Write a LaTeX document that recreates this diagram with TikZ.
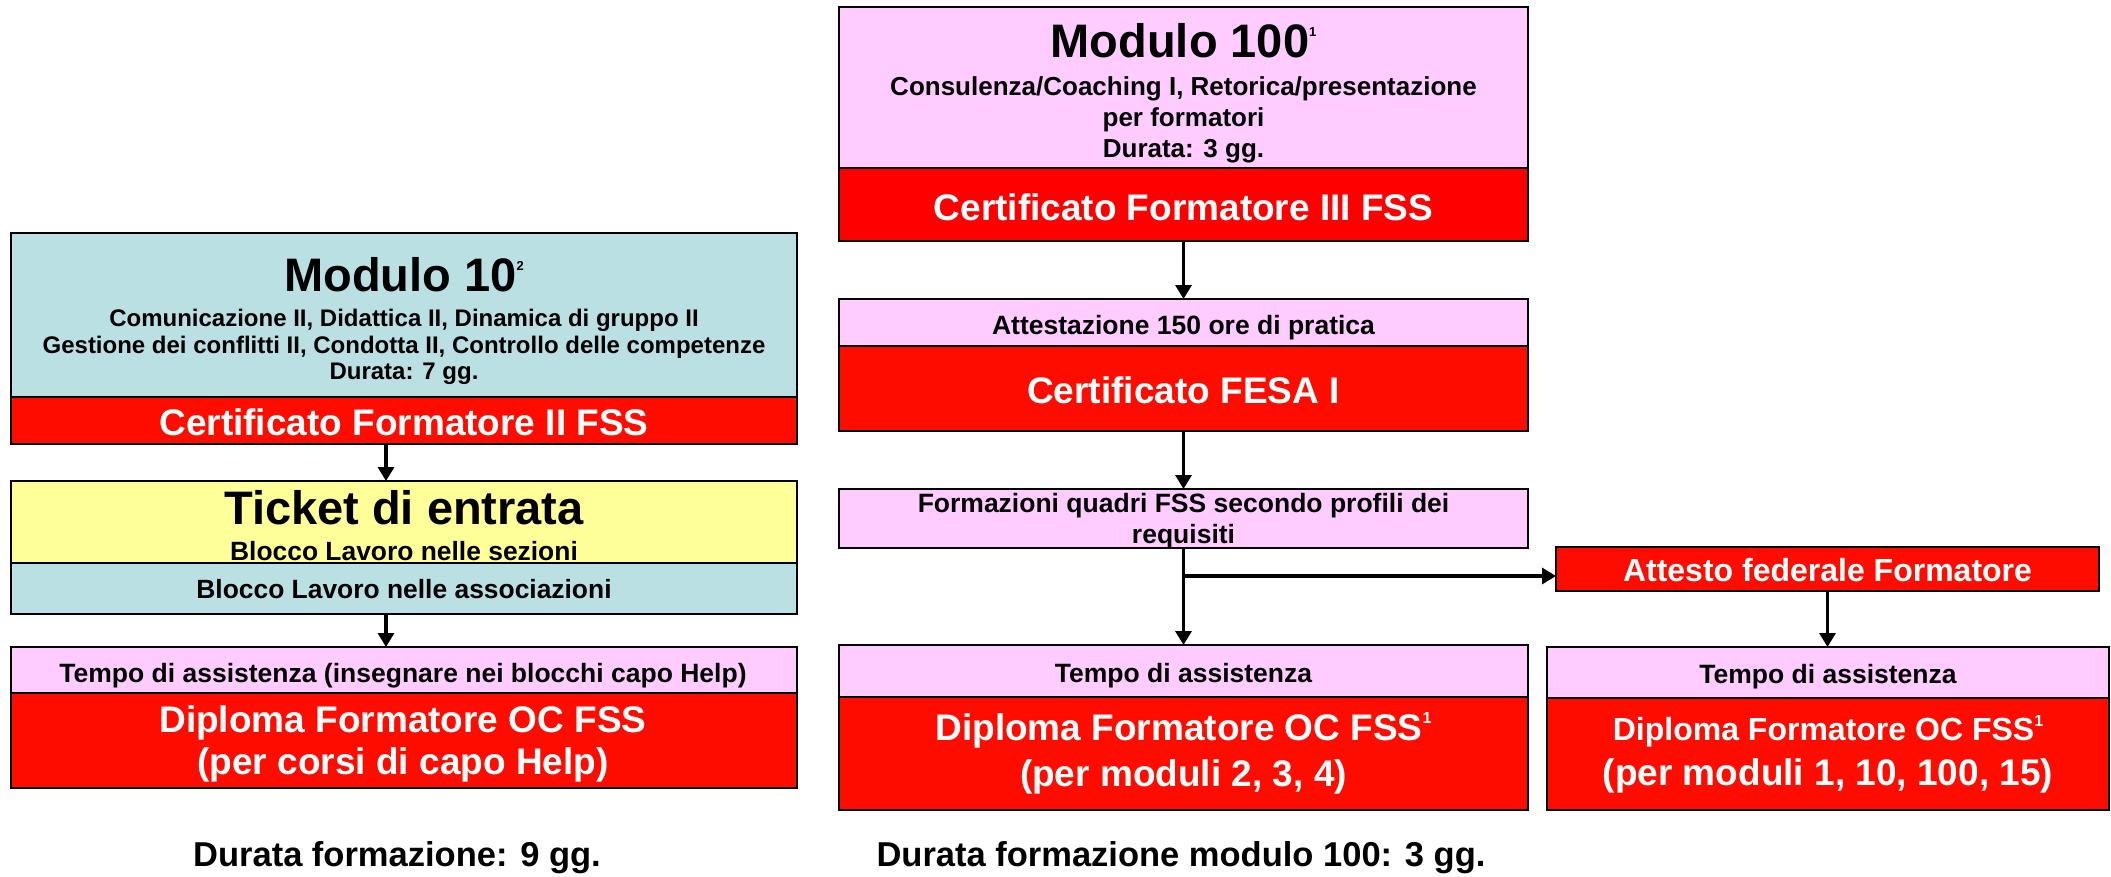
\documentclass[tikz,border=0pt]{standalone}
\usepackage{fontspec}
\setmainfont{Liberation Sans}
\usetikzlibrary{arrows.meta}
\definecolor{lblue}{RGB}{187,224,227}
\definecolor{lpink}{RGB}{255,204,255}
\definecolor{lyellow}{RGB}{255,255,153}
\definecolor{bred}{RGB}{255,12,0}
\newcommand{\fsz}[1]{\fontsize{#1}{#1}\selectfont}
\newcommand{\supr}[3]{\raisebox{#2pt}{\fsz{#1}#3}}
\begin{document}
\begin{tikzpicture}[x=1pt,y=-1pt,
  box/.style={draw=black, line width=2.7pt, rectangle, inner sep=0pt, outer sep=0pt},
  txt/.style={inner sep=0pt, outer sep=0pt, anchor=base, font=\bfseries},
  wtxt/.style={txt, text=white},
  arr/.style={line width=3.2pt, -{Triangle[length=14pt,width=16pt]}}]
\useasboundingbox (0,0) rectangle (2111,876);
% ---------------- left column ----------------
\node[box, fill=lblue, minimum width=786pt, minimum height=164pt] (m10) at (404,315) {};
\node[box, fill=bred, minimum width=786pt, minimum height=47pt] (m10red) at (404,420.5) {};
\node[box, fill=lyellow, minimum width=786pt, minimum height=82pt] (tik) at (404,522) {};
\node[box, fill=lblue, minimum width=786pt, minimum height=51pt] (tikb) at (404,588.5) {};
\node[box, fill=lpink, minimum width=786pt, minimum height=46pt] (tl) at (404,670) {};
\node[box, fill=bred, minimum width=786pt, minimum height=95pt] (tlred) at (404,740.5) {};
\node[txt] (m10t) at (404,291) {\fsz{47}Modulo 10\supr{13}{21}{2}};
\node[txt] (m10a) at (404,326) {\fsz{24}Comunicazione II, Didattica II, Dinamica di gruppo II};
\node[txt] (m10b) at (404,353) {\fsz{24}Gestione dei conflitti II, Condotta II, Controllo delle competenze};
\node[txt] (m10c) at (404,379) {\fsz{24}Durata: 7 gg.};
\node[wtxt] (m10r) at (404,435) {\fsz{37}Certificato Formatore II FSS};
\node[txt] (tikt) at (404,524) {\fsz{47}Ticket di entrata};
\node[txt] (tika) at (404,560) {\fsz{26.4}Blocco Lavoro nelle sezioni};
\node[txt] (tikbt) at (404,598) {\fsz{26.4}Blocco Lavoro nelle associazioni};
\node[txt] (tlt) at (403,682) {\fsz{26.5}Tempo di assistenza (insegnare nei blocchi capo Help)};
\node[wtxt] (tlr1) at (403,732) {\fsz{37}Diploma Formatore OC FSS};
\node[wtxt] (tlr2) at (403,774) {\fsz{37}(per corsi di capo Help)};
\node[txt] (dl) at (397,866) {\fsz{34.5}Durata formazione: 9 gg.};
\coordinate (lx) at (386,0);
\draw[arr] (m10red.south -| lx) -- (tik.north -| lx);
\draw[arr] (tikb.south -| lx) -- (tl.north -| lx);
% ---------------- middle column ----------------
\node[box, fill=lpink, minimum width=689pt, minimum height=161pt] (m100) at (1183.5,87.5) {};
\node[box, fill=red, minimum width=689pt, minimum height=73pt] (m100red) at (1183.5,204.5) {};
\node[box, fill=lpink, minimum width=689pt, minimum height=47pt] (att) at (1183.5,322.5) {};
\node[box, fill=bred, minimum width=689pt, minimum height=85pt] (attred) at (1183.5,388.5) {};
\node[box, fill=lpink, minimum width=689pt, minimum height=59pt] (form) at (1183.5,518.5) {};
\node[box, fill=lpink, minimum width=689pt, minimum height=52pt] (tm) at (1183.5,671) {};
\node[box, fill=bred, minimum width=689pt, minimum height=113pt] (tmred) at (1183.5,753.5) {};
\node[txt] (m100t) at (1183.5,57) {\fsz{47}Modulo 100\supr{13}{21}{1}};
\node[txt] (m100a) at (1183.5,95) {\fsz{26}Consulenza/Coaching I, Retorica/presentazione};
\node[txt] (m100b) at (1183.5,126) {\fsz{26}per formatori};
\node[txt] (m100c) at (1183.5,157) {\fsz{26}Durata: 3 gg.};
\node[wtxt] (m100r) at (1183.5,220) {\fsz{37}Certificato Formatore III FSS};
\node[txt] (attt) at (1183.5,334) {\fsz{26.5}Attestazione 150 ore di pratica};
\node[wtxt] (attr) at (1183.5,403) {\fsz{37}Certificato FESA I};
\node[txt] (forma) at (1183.5,512) {\fsz{26.5}Formazioni quadri FSS secondo profili dei};
\node[txt] (formb) at (1183.5,543) {\fsz{26.5}requisiti};
\node[txt] (tmt) at (1183.5,682) {\fsz{26.5}Tempo di assistenza};
\node[wtxt] (tmr1) at (1183.5,740) {\fsz{37}Diploma Formatore OC FSS\supr{16}{17}{1}};
\node[wtxt] (tmr2) at (1183.5,786) {\fsz{37}(per moduli 2, 3, 4)};
\node[txt] (dm) at (1181,866) {\fsz{34.5}Durata formazione modulo 100: 3 gg.};
\draw[arr] (m100red.south) -- (att.north);
\draw[arr] (attred.south) -- (form.north);
\draw[arr] (form.south) -- (tm.north);
% ---------------- right column ----------------
\node[box, fill=bred, minimum width=543pt, minimum height=44pt] (attesto) at (1827.5,569) {};
\node[box, fill=lpink, minimum width=562pt, minimum height=51pt] (tr) at (1828,672.5) {};
\node[box, fill=bred, minimum width=562pt, minimum height=112pt] (trred) at (1828,754) {};
\node[wtxt] (attestot) at (1827.5,581) {\fsz{32}Attesto federale Formatore};
\node[txt] (trt) at (1828,683) {\fsz{26.5}Tempo di assistenza};
\node[wtxt] (trr1) at (1828,740) {\fsz{32}Diploma Formatore OC FSS\supr{16}{14}{1}};
\node[wtxt] (trr2) at (1828,785) {\fsz{37}(per moduli 1, 10, 100, 15)};
\coordinate (br) at (1183.5,576);
\draw[arr] (br) -- (attesto.west |- br);
\draw[arr] (attesto.south) -- (attesto.south |- tr.north);
\end{tikzpicture}
\end{document}
